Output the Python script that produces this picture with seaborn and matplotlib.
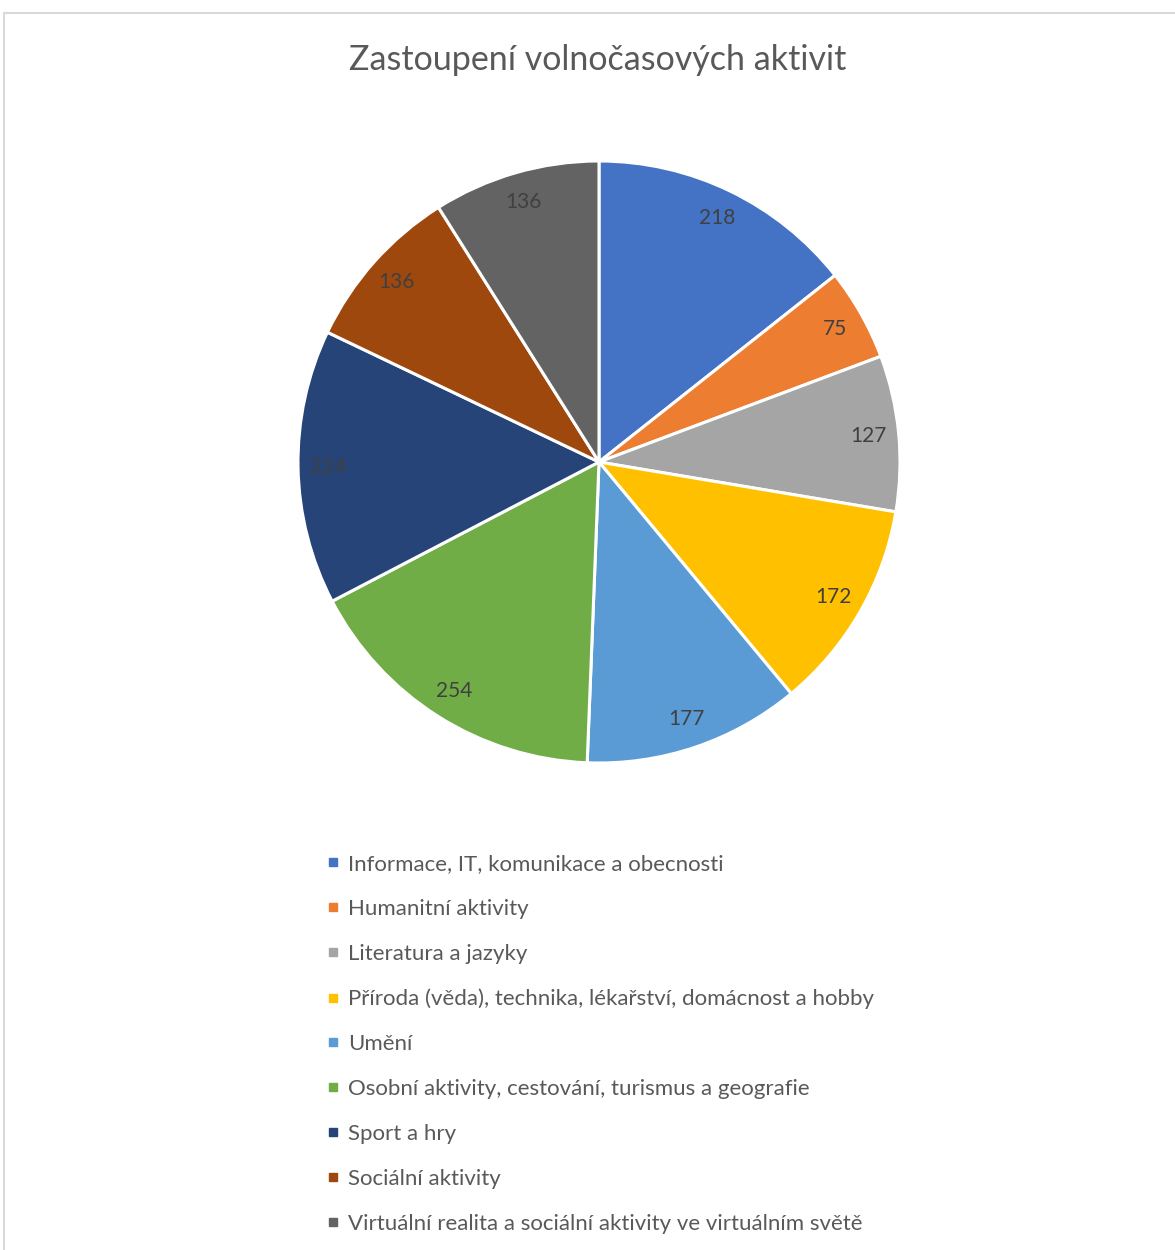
import matplotlib.pyplot as plt
import seaborn as sns
from matplotlib.lines import Line2D

categories = [
    'Informace, IT, komunikace a obecnosti',
    'Humanitní aktivity',
    'Literatura a jazyky',
    'Příroda (věda), technika, lékařství, domácnost a hobby',
    'Umění',
    'Osobní aktivity, cestování, turismus a geografie',
    'Sport a hry',
    'Sociální aktivity',
    'Virtuální realita a sociální aktivity ve virtuálním světě',
]
counts = [218, 75, 127, 172, 177, 254, 224, 136, 136]
colors = ['#4472C4', '#ED7D31', '#A5A5A5', '#FFC000', '#5B9BD5',
          '#70AD47', '#264478', '#9E480E', '#636363']

sns.set_theme(style='white')
plt.rcParams['font.family'] = ['Lato', 'DejaVu Sans']

W, H = 1175, 1250
fig = plt.figure(figsize=(W / 100, H / 100), dpi=100)

# pie axes: centre ~(599, 462) px, radius ~301 px
cx, cy, r = 599, 462, 301
ax = fig.add_axes([(cx - r) / W, 1 - (cy + r) / H, 2 * r / W, 2 * r / H])
palette = sns.color_palette(colors)
wedges, texts = ax.pie(
    counts, colors=palette, startangle=90, counterclock=False,
    labels=[str(c) for c in counts], labeldistance=0.9,
    wedgeprops=dict(edgecolor='white', linewidth=2.2),
    textprops=dict(color='#404040', fontsize=15, ha='center', va='center'),
)
ax.set_xlim(-1, 1)
ax.set_ylim(-1, 1)
ax.set_aspect('equal')

fig.text(598 / W, 1 - 60 / H, 'Zastoupení volnočasových aktivit',
         ha='center', va='center', fontsize=24.5, color='#595959')

handles = [Line2D([], [], marker='s', linestyle='', markersize=6,
                  markerfacecolor=c, markeredgecolor=c) for c in colors]
leg = fig.legend(handles, categories, loc='upper left',
                 bbox_to_anchor=(315 / W, 1 - 843 / H), frameon=False,
                 fontsize=16, labelspacing=1.12, handlelength=0.6,
                 handletextpad=0.4, borderpad=0)
for t in leg.get_texts():
    t.set_color('#595959')

# chart area border (left and top visible)
fig.add_artist(Line2D([4 / W, 4 / W], [0, 1 - 13 / H], color='#D9D9D9',
                      linewidth=1.5, transform=fig.transFigure))
fig.add_artist(Line2D([4 / W, 1], [1 - 13 / H, 1 - 13 / H], color='#D9D9D9',
                      linewidth=1.5, transform=fig.transFigure))

fig.savefig('out.png', dpi=100, facecolor='white')
